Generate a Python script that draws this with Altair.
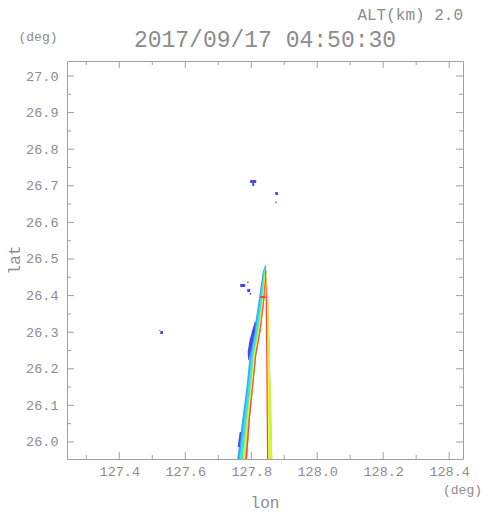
import altair as alt
import pandas as pd

# ---------------- axis ranges and ticks (degrees) ----------------
X_DOMAIN = [127.2415, 128.442]
Y_DOMAIN = [25.9535, 27.041]
X_MAJOR = [127.4, 127.6, 127.8, 128.0, 128.2, 128.4]
X_MINOR = [127.3, 127.5, 127.7, 127.9, 128.1, 128.3]
Y_MAJOR = [26.0, 26.1, 26.2, 26.3, 26.4, 26.5, 26.6, 26.7, 26.8, 26.9, 27.0]
Y_MINOR = [26.05, 26.15, 26.25, 26.35, 26.45, 26.55, 26.65, 26.75, 26.85, 26.95]

# ---------------- left (slanted) echo band ----------------
LAT_L = [26.4836, 26.4645, 26.3880, 26.3060, 26.2377, 26.1557, 26.0601, 25.9536]
L_OUTER = [127.8424, 127.8348, 127.8227, 127.8090, 127.7954, 127.7863, 127.7727, 127.7575]
L_CYAN = [127.8427, 127.8375, 127.8269, 127.8139, 127.8002, 127.7911, 127.7784, 127.7648]
L_GREEN = [127.8433, 127.8405, 127.8318, 127.8199, 127.8063, 127.7972, 127.7851, 127.7736]
L_YELLOW = [127.8433, 127.8421, 127.8339, 127.8224, 127.8087, 127.7996, 127.7881, 127.7775]
L_ORANGE = [127.8436, 127.8430, 127.8357, 127.8245, 127.8108, 127.8018, 127.7905, 127.7805]
L_RED = [127.8436, 127.8439, 127.8369, 127.8260, 127.8124, 127.8033, 127.7924, 127.7827]
L_INNER = [127.8439, 127.8454, 127.8393, 127.8287, 127.8151, 127.8060, 127.7954, 127.7869]

# ---------------- right (near-vertical) echo band ----------------
LAT_R = [26.4809, 26.3880, 26.2377, 26.0601, 25.9536]
R_LEFT = [127.8424, 127.8439, 127.8454, 127.8469, 127.8478]
R_YELLOW = [127.8439, 127.8475, 127.8490, 127.8505, 127.8514]
R_GREEN = [127.8439, 127.8505, 127.8521, 127.8536, 127.8545]
R_RIGHT = [127.8439, 127.8514, 127.8560, 127.8605, 127.8636]

# ---------------- weak (blue) echo patches ----------------
P1_LAT = [26.3279, 26.3005, 26.2732, 26.2459, 26.2240]
P1_LON0 = [127.8105, 127.8015, 127.7939, 127.7893, 127.7908]
P1_LON1 = [127.8136, 127.8105, 127.8045, 127.7984, 127.7924]
P2_LAT = [26.0273, 25.9863]
P2_LON0 = [127.7651, 127.7590]
P2_LON1 = [127.7696, 127.7651]

BLOB_LON0 = [127.7969, 127.8030, 127.8727, 127.8727, 127.7666, 127.7878, 127.7878, 127.7954, 127.5242, 127.5212]
BLOB_LON1 = [127.8151, 127.8090, 127.8808, 127.8787, 127.7818, 127.7969, 127.7918, 127.7999, 127.5324, 127.5242]
BLOB_LAT0 = [26.7077, 26.6995, 26.6749, 26.6538, 26.4235, 26.4098, 26.4344, 26.4030, 26.2951, 26.3033]
BLOB_LAT1 = [26.7158, 26.7077, 26.6831, 26.6566, 26.4317, 26.4180, 26.4385, 26.4071, 26.3033, 26.3060]

RED_LON0 = [127.8272]
RED_LON1 = [127.8424]
RED_LAT0 = [26.3934]
RED_LAT1 = [26.3989]

# ---------------- colours ----------------
C_BLUE = "#4848f0"
C_SKY = "#38a8ff"
C_CYAN = "#40e0e0"
C_GREEN = "#70ff70"
C_YELLOW = "#f8f840"
C_ORANGE = "#ffa040"
C_RED = "#ff4040"
C_YGREEN = "#b8ff40"

TXT = "#8c8c8c"
FRAME = "#a0a0a0"
FONT = "Liberation Mono"

XS = alt.Scale(domain=X_DOMAIN, nice=False, zero=False)
YS = alt.Scale(domain=Y_DOMAIN, nice=False, zero=False)
X_AXIS = alt.Axis(values=X_MAJOR, format=".1f", ticks=False, tickSize=0, domain=False, grid=False,
                  labelFont=FONT, labelFontSize=13.5, labelColor=TXT, labelPadding=5, title=None)
Y_AXIS = alt.Axis(values=Y_MAJOR, format=".1f", ticks=False, tickSize=0, domain=False, grid=False,
                  labelFont=FONT, labelFontSize=13.5, labelColor=TXT, labelPadding=9, title=None)

W, H = 396, 398


def area(lat, lon0, lon1, color):
    df = pd.DataFrame({"lat": lat, "lon0": lon0, "lon1": lon1})
    return alt.Chart(df).mark_area(orient="horizontal", color=color, clip=True).encode(
        y=alt.Y("lat:Q", scale=YS, axis=Y_AXIS),
        x=alt.X("lon0:Q", scale=XS, axis=X_AXIS),
        x2="lon1:Q",
    )


def rects(lon0, lon1, lat0, lat1, color):
    df = pd.DataFrame({"lon0": lon0, "lon1": lon1, "lat0": lat0, "lat1": lat1})
    return alt.Chart(df).mark_rect(color=color, clip=True).encode(
        x=alt.X("lon0:Q", scale=XS, axis=X_AXIS),
        x2="lon1:Q",
        y=alt.Y("lat0:Q", scale=YS, axis=Y_AXIS),
        y2="lat1:Q",
    )


def xticks(vals, y0, y1):
    df = pd.DataFrame({"v": vals})
    return alt.Chart(df).mark_rule(color=FRAME, strokeWidth=1).encode(
        x=alt.X("v:Q", scale=XS, axis=X_AXIS), y=alt.value(y0), y2=alt.value(y1))


def yticks(vals, x0, x1):
    df = pd.DataFrame({"v": vals})
    return alt.Chart(df).mark_rule(color=FRAME, strokeWidth=1).encode(
        y=alt.Y("v:Q", scale=YS, axis=Y_AXIS), x=alt.value(x0), x2=alt.value(x1))


def label(text, x, y, size, align="center", angle=0):
    df = pd.DataFrame({"t": [text]})
    kw = dict(font=FONT, fontSize=size, color=TXT, align=align, baseline="alphabetic")
    if angle:
        kw["angle"] = angle
    return alt.Chart(df).mark_text(**kw).encode(text="t:N", x=alt.value(x), y=alt.value(y))


layers = [
    area(LAT_L, L_OUTER, L_INNER, C_SKY),
    area(P1_LAT, P1_LON0, P1_LON1, C_BLUE),
    area(P2_LAT, P2_LON0, P2_LON1, C_BLUE),
    area(LAT_L, L_CYAN, L_INNER, C_CYAN),
    area(LAT_L, L_GREEN, L_INNER, C_GREEN),
    area(LAT_L, L_YELLOW, L_INNER, C_YELLOW),
    area(LAT_L, L_ORANGE, L_INNER, C_ORANGE),
    area(LAT_L, L_RED, L_INNER, C_RED),
    area(LAT_R, R_LEFT, R_RIGHT, C_RED),
    area(LAT_R, R_YELLOW, R_RIGHT, C_YELLOW),
    area(LAT_R, R_GREEN, R_RIGHT, C_YGREEN),
    rects(RED_LON0, RED_LON1, RED_LAT0, RED_LAT1, C_RED),
    rects(BLOB_LON0, BLOB_LON1, BLOB_LAT0, BLOB_LAT1, C_BLUE),
    xticks(X_MAJOR, H, H - 7), xticks(X_MINOR, H, H - 4),
    xticks(X_MAJOR, 0, 7), xticks(X_MINOR, 0, 4),
    yticks(Y_MAJOR, 0, 7), yticks(Y_MINOR, 0, 4),
    yticks(Y_MAJOR, W, W - 7), yticks(Y_MINOR, W, W - 4),
    label("ALT(km) 2.0", W, -41, 16, align="right"),
    label("2017/09/17 04:50:30", W / 2, -14, 23),
    label("(deg)", -29, -20, 13),
    label("(deg)", 415, 433, 13, align="right"),
    label("lon", W / 2, 447, 16),
    label("lat", -47, H / 2, 16, angle=270),
]

chart = alt.layer(*layers).properties(
    width=W, height=H,
    padding={"left": 59, "top": 53, "right": 20, "bottom": 54},
    autosize=alt.AutoSizeParams(type="none"),
).configure_view(stroke=FRAME, strokeWidth=1)

chart.save("out.html", embed_options={"renderer": "svg", "actions": False})
